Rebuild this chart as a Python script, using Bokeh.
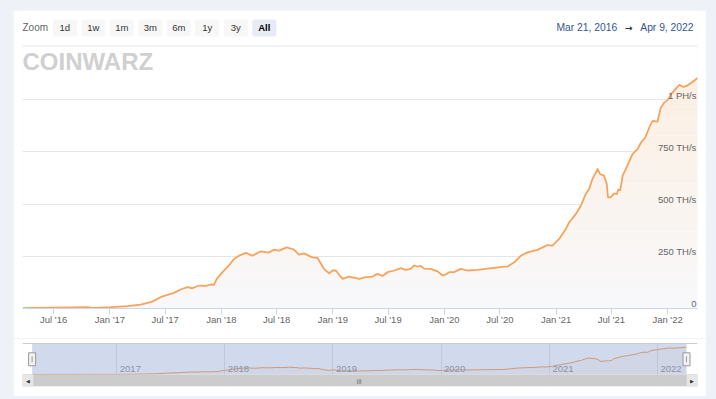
import numpy as np
import pandas as pd
from bokeh.plotting import figure
from bokeh.layouts import column
from bokeh.models import Range1d, FixedTicker, BoxAnnotation, Label, Span
from bokeh.core.properties import value
from bokeh.embed import file_html
from bokeh.resources import INLINE

# ---------------- data ----------------
dates = [
    "2016-03-21", "2016-05-01", "2016-07-01", "2016-09-01", "2016-10-19", "2016-11-05",
    "2016-12-01", "2017-01-04", "2017-02-27", "2017-04-12", "2017-05-20", "2017-06-16",
    "2017-07-08", "2017-07-30", "2017-08-21", "2017-09-12", "2017-09-28", "2017-10-20",
    "2017-11-11", "2017-11-27", "2017-12-08", "2017-12-17", "2018-01-05", "2018-01-26",
    "2018-02-12", "2018-02-28", "2018-03-22", "2018-04-13", "2018-05-10", "2018-06-06",
    "2018-06-23", "2018-07-09", "2018-08-03", "2018-08-27", "2018-09-12", "2018-09-29",
    "2018-10-26", "2018-11-12", "2018-12-03", "2018-12-20", "2018-12-31", "2019-01-11",
    "2019-01-21", "2019-02-02", "2019-02-23", "2019-03-28", "2019-04-19", "2019-05-11",
    "2019-05-27", "2019-06-13", "2019-06-29", "2019-07-21", "2019-08-12", "2019-08-28",
    "2019-09-13", "2019-09-24", "2019-10-05", "2019-10-16", "2019-10-27", "2019-11-18",
    "2019-12-10", "2019-12-26", "2020-01-06", "2020-01-17", "2020-02-02", "2020-02-24",
    "2020-03-17", "2020-04-19", "2020-05-21", "2020-06-12", "2020-07-15", "2020-07-26",
    "2020-08-17", "2020-09-08", "2020-09-29", "2020-11-01", "2020-12-04", "2020-12-20",
    "2021-01-11", "2021-02-02", "2021-02-13", "2021-03-07", "2021-03-23", "2021-04-08",
    "2021-04-19", "2021-04-30", "2021-05-17", "2021-05-25", "2021-06-07", "2021-06-16",
    "2021-06-20", "2021-06-29", "2021-07-10", "2021-07-19", "2021-07-23", "2021-07-30",
    "2021-08-07", "2021-08-21", "2021-09-08", "2021-09-25", "2021-10-06", "2021-10-20",
    "2021-11-02", "2021-11-13", "2021-11-29", "2021-12-10", "2021-12-21", "2022-01-01",
    "2022-01-17", "2022-02-08", "2022-02-22", "2022-03-08", "2022-03-21", "2022-04-04",
    "2022-04-09",
]
hashrate_th = [
    1.5, 2.5, 4.0, 5.0, 6.2, 3.3,
    4.5, 6.2, 11, 19, 33, 54,
    65, 75, 91, 102, 97, 110,
    108, 115, 113, 142, 174, 206,
    238, 253, 266, 253, 274, 268,
    282, 277, 293, 282, 258, 264,
    245, 242, 190, 169, 182, 182,
    163, 142, 153, 142, 150, 153,
    166, 156, 174, 182, 193, 185,
    190, 206, 201, 204, 191, 190,
    178, 158, 163, 174, 174, 190,
    182, 185, 191, 195, 201, 201,
    221, 253, 269, 281, 304, 301,
    333, 381, 413, 453, 492, 548,
    572, 620, 668, 644, 636, 596,
    532, 532, 551, 548, 569, 567,
    636, 679, 739, 763, 795, 819,
    867, 899, 895, 962, 986, 998,
    1034, 1071, 1061, 1069, 1082, 1098,
    1105,
]
x_tick_dates = ["2016-07-01", "2017-01-01", "2017-07-01", "2018-01-01", "2018-07-01",
                "2019-01-01", "2019-07-01", "2020-01-01", "2020-07-01", "2021-01-01",
                "2021-07-01", "2022-01-01"]
x_tick_labels = ["Jul '16", "Jan '17", "Jul '17", "Jan '18", "Jul '18", "Jan '19",
                 "Jul '19", "Jan '20", "Jul '20", "Jan '21", "Jul '21", "Jan '22"]
y_ticks = [0, 250, 500, 750, 1000]
y_tick_labels = ["0", "250 TH/s", "500 TH/s", "750 TH/s", "1 PH/s"]
nav_year_dates = ["2017-01-01", "2018-01-01", "2019-01-01", "2020-01-01", "2021-01-01", "2022-01-01"]
nav_year_labels = ["2017", "2018", "2019", "2020", "2021", "2022"]
zoom_buttons = ["1d", "1w", "1m", "3m", "6m", "1y", "3y", "All"]
selected_button = "All"
brand = "COINWARZ"

# ---------------- styling ----------------
FONT = "Liberation Sans"
OUTER = "#eef1f7"
ORANGE = "#f7a35c"
PANEL_W = 693


def to_ms(seq):
    s = pd.to_datetime(pd.Series(seq))
    return ((s - pd.Timestamp("1970-01-01")) / pd.Timedelta(milliseconds=1)).to_numpy(dtype=float)


xs = to_ms(dates)
ys = np.asarray(hashrate_th, dtype=float)
x0, x1 = xs[0], xs[-1]
xt_ms = to_ms(x_tick_dates)
nav_year_ms = to_ms(nav_year_dates)

# ================= main chart =================
FRAME_H = 298.0
PX_PER_TH = 52.2 / 250.0
p = figure(width=PANEL_W, height=328, x_axis_type="datetime", title=None,
           x_range=Range1d(x0, x1), y_range=Range1d(0, FRAME_H / PX_PER_TH),
           output_backend="svg", toolbar_location=None,
           min_border_left=9, min_border_right=9, min_border_top=0, min_border_bottom=30)
p.margin = (10, 10, 0, 13)
p.border_fill_color = "white"
p.background_fill_color = "white"
p.outline_line_color = None
p.yaxis.visible = False
p.xgrid.visible = False
p.ygrid.ticker = FixedTicker(ticks=y_ticks)
p.ygrid.grid_line_color = "#e6e6e6"
p.ygrid.grid_line_width = 1

p.xaxis.ticker = FixedTicker(ticks=list(xt_ms), minor_ticks=[])
p.xaxis.major_label_overrides = {float(t): lab for t, lab in zip(xt_ms, x_tick_labels)}
p.xaxis.axis_line_color = "#ccd6eb"
p.xaxis.major_tick_line_color = "#ccd6eb"
p.xaxis.minor_tick_line_color = None
p.xaxis.major_tick_in = 0
p.xaxis.major_tick_out = 6
p.xaxis.major_label_standoff = -1
p.xaxis.major_label_text_font = FONT
p.xaxis.major_label_text_font_size = "9.5px"
p.xaxis.major_label_text_color = "#666666"


def msx(px):
    return px - 22


def msy(py):
    return 308 - py


def sbox(fig_x, fig_y, l, r, t, b, **kw):
    return BoxAnnotation(left=fig_x(l), right=fig_x(r), top=fig_y(t), bottom=fig_y(b),
                         left_units="screen", right_units="screen",
                         top_units="screen", bottom_units="screen", **kw)


# gradient fill under the line (bands; crossings inserted so the fill follows the line)
NB = 24
edges = np.linspace(0, ys.max(), NB + 1)
rx, ry = [xs[0]], [ys[0]]
for i in range(1, len(xs)):
    xa, ya, xb, yb = xs[i - 1], ys[i - 1], xs[i], ys[i]
    cuts = [L for L in edges if (ya < L < yb) or (yb < L < ya)]
    cuts.sort(reverse=(yb < ya))
    for L in cuts:
        t = (L - ya) / (yb - ya)
        rx.append(xa + t * (xb - xa))
        ry.append(L)
    rx.append(xb)
    ry.append(yb)
rx = np.array(rx)
ry = np.array(ry)
c_bot = np.array([248, 248, 250])
c_top = np.array([252, 239, 227])
for i in range(NB):
    lo, hi = edges[i], edges[i + 1]
    tt = (i + 0.5) / NB
    c = (c_bot + (c_top - c_bot) * tt).round().astype(int)
    col = "#%02x%02x%02x" % tuple(c)
    p.varea(x=rx, y1=float(lo), y2=np.clip(ry, lo, hi), fill_color=col, fill_alpha=1)

p.line(xs, ys, line_color=ORANGE, line_width=1.8, line_join="round")

p.text(x=[x1] * len(y_ticks), y=y_ticks, text=y_tick_labels, text_align="right",
       text_baseline="middle", x_offset=-1, y_offset=-4.5,
       text_font=value(FONT), text_font_size=value("9.5px"), text_color="#666666")

# header: range selector
HDR_Y = 27.4
p.add_layout(Label(x=msx(22), y=msy(HDR_Y), x_units="screen", y_units="screen", text="Zoom",
                   text_font=FONT, text_font_size="10px", text_color="#666666",
                   text_align="left", text_baseline="middle"))
for i, b in enumerate(zoom_buttons):
    left = 52.3 + 28.5 * i
    sel = (b == selected_button)
    p.add_layout(sbox(msx, msy, left, left + 24, 19, 36,
                      fill_color="#e6ebf5" if sel else "#f7f7f7", fill_alpha=1,
                      line_color=None, border_radius=2))
    p.add_layout(Label(x=msx(left + 12), y=msy(HDR_Y), x_units="screen", y_units="screen", text=b,
                       text_font=FONT, text_font_size="9.5px",
                       text_font_style="bold" if sel else "normal",
                       text_color="#000000" if sel else "#333333",
                       text_align="center", text_baseline="middle"))

s_ts = pd.Timestamp(dates[0])
e_ts = pd.Timestamp(dates[-1])
start_txt = f"{s_ts:%b} {s_ts.day}, {s_ts.year}"
end_txt = f"{e_ts:%b} {e_ts.day}, {e_ts.year}"
DATE_COL = "#34578f"
p.add_layout(Label(x=msx(556), y=msy(HDR_Y), x_units="screen", y_units="screen", text=start_txt,
                   text_font=FONT, text_font_size="10.3px", text_color=DATE_COL,
                   text_align="left", text_baseline="middle"))
p.add_layout(Label(x=msx(628.3), y=msy(27.3), x_units="screen", y_units="screen", text="\u2192",
                   text_font="DejaVu Sans", text_font_size="9px", text_font_style="bold",
                   text_color="#333333", text_align="center", text_baseline="middle"))
p.add_layout(Label(x=msx(693), y=msy(HDR_Y), x_units="screen", y_units="screen", text=end_txt,
                   text_font=FONT, text_font_size="10.3px", text_color=DATE_COL,
                   text_align="right", text_baseline="middle"))
# separator
p.add_layout(sbox(msx, msy, 22, 697, 45, 46, fill_color="#e6e6e6", fill_alpha=1, line_color=None))
# brand logo
p.add_layout(Label(x=msx(22), y=msy(60.5), x_units="screen", y_units="screen", text=brand,
                   text_font=FONT, text_font_size="24px", text_font_style="bold",
                   text_color="#d0d0d0", text_align="left", text_baseline="middle"))

# ================= navigator =================
NAV_FRAME_W = 675.0
pad_l, pad_r = 9.6, 11.0
ppm = (NAV_FRAME_W - pad_l - pad_r) / (x1 - x0)
nx0 = x0 - pad_l / ppm
nx1 = x1 + pad_r / ppm
NAV_TOP = 1250.0
npx = 31.0 / NAV_TOP
ny1 = NAV_TOP + 1.0 / npx
ny0 = -12.0 / npx

nav = figure(width=PANEL_W, height=58, x_axis_type="datetime", title=None,
             x_range=Range1d(nx0, nx1), y_range=Range1d(ny0, ny1),
             output_backend="svg", toolbar_location=None,
             min_border_left=9, min_border_right=9, min_border_top=4, min_border_bottom=10)
nav.margin = (0, 10, 3, 13)
nav.border_fill_color = "white"
nav.background_fill_color = "white"
nav.outline_line_color = None
nav.xaxis.visible = False
nav.yaxis.visible = False
nav.ygrid.visible = False
nav.xgrid.ticker = FixedTicker(ticks=list(nav_year_ms), minor_ticks=[])
nav.xgrid.grid_line_color = "#e6e6e6"


def nsx(px):
    return px - 22


def nsy(py):
    return 386 - py


nav.varea(x=xs, y1=0, y2=ys, fill_color=ORANGE, fill_alpha=0.06)
nav.line(xs, ys, line_color=ORANGE, line_width=1)
nav.text(x=nav_year_ms, y=[0] * len(nav_year_ms), text=nav_year_labels, text_align="left",
         text_baseline="middle", x_offset=3, y_offset=-5.7,
         text_font=value(FONT), text_font_size=value("9.5px"), text_color="#999999")

# mask (selected range = everything)
nav.add_layout(BoxAnnotation(left=x0, right=x1, bottom=0, top=NAV_TOP,
                             fill_color="#6685c2", fill_alpha=0.3, line_color=None))
nav.add_layout(Span(location=NAV_TOP, dimension="width", line_color="#cccccc", line_width=1))

# scrollbar
nav.add_layout(BoxAnnotation(left=0, right=NAV_FRAME_W, left_units="screen", right_units="screen",
                             bottom=ny0, top=0, fill_color="#cccccc", fill_alpha=1, line_color=None))
nav.add_layout(BoxAnnotation(left=0, right=11, left_units="screen", right_units="screen",
                             bottom=ny0, top=0, fill_color="#e6e6e6", fill_alpha=1,
                             line_color="#cccccc", line_width=1))
nav.add_layout(BoxAnnotation(left=NAV_FRAME_W - 11, right=NAV_FRAME_W, left_units="screen",
                             right_units="screen", bottom=ny0, top=0, fill_color="#e6e6e6",
                             fill_alpha=1, line_color="#cccccc", line_width=1))
nav.add_layout(Label(x=5.5, y=nsy(380), x_units="screen", y_units="screen", text="\u25c0",
                     text_font="DejaVu Sans", text_font_size="5px", text_color="#333333",
                     text_align="center", text_baseline="middle"))
nav.add_layout(Label(x=NAV_FRAME_W - 5.5, y=nsy(380), x_units="screen", y_units="screen",
                     text="\u25b6", text_font="DejaVu Sans", text_font_size="5px",
                     text_color="#333333", text_align="center", text_baseline="middle"))
nav.add_layout(Label(x=nsx(358.5), y=nsy(380), x_units="screen", y_units="screen", text="|||",
                     text_font="DejaVu Sans", text_font_size="5px", text_color="#333333",
                     text_align="center", text_baseline="middle"))

# handles
hr = nav.rect(x=[x0, x1], y=[NAV_TOP * 0.49] * 2, width=7, height=13,
              width_units="screen", height_units="screen",
              fill_color="#f2f2f2", line_color="#999999", line_width=1)
hr.level = "overlay"
hd = nav.scatter(x=[x0, x1], y=[NAV_TOP * 0.49] * 2, marker="dash", angle=np.pi / 2,
                 size=6, line_color="#999999", line_width=1)
hd.level = "overlay"

layout = column(p, nav, styles={"background-color": OUTER})
open("out.html", "w").write(file_html(layout, INLINE))
